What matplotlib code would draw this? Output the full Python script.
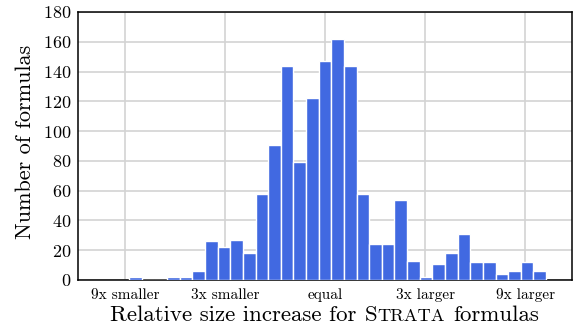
import numpy as np
import matplotlib
matplotlib.use("Agg")
import matplotlib.pyplot as plt
from matplotlib.offsetbox import TextArea, HPacker, AnchoredOffsetbox

# bin centres in log2(size ratio), bin width 0.2
bin_centers = [-3.0, -2.8, -2.6, -2.4, -2.2, -2.0, -1.8, -1.6, -1.4, -1.2, -1.0,
               -0.8, -0.6, -0.4, -0.2, 0.0, 0.2, 0.4, 0.6, 0.8, 1.0, 1.2, 1.4,
               1.6, 1.8, 2.0, 2.2, 2.4, 2.6, 2.8, 3.0, 3.2, 3.4]
counts = [2, 0, 0, 2, 2, 6, 26, 22, 27, 18, 58, 91, 144, 79, 122, 147, 162,
          144, 58, 24, 24, 54, 13, 2, 11, 18, 31, 12, 12, 4, 6, 12, 6]
tick_ratios = [1 / 9, 1 / 3, 1, 3, 9]
tick_labels = ["9x smaller", "3x smaller", "equal", "3x larger", "9x larger"]

plt.rcParams["font.family"] = "cmr10"
plt.rcParams["axes.formatter.use_mathtext"] = True

fig = plt.figure(figsize=(5.75, 3.33), dpi=100)
ax = fig.add_axes([78 / 575, 1 - 280 / 333, 494 / 575, 268 / 333])

ax.bar(bin_centers, counts, width=0.2, color="#4169e1", edgecolor="white",
       linewidth=1.0, zorder=3)

ax.set_xlim(-3.91, 3.91)
ax.set_ylim(0, 180)
ax.set_yticks(np.arange(0, 181, 20))
ax.set_xticks(np.log2(tick_ratios))
ax.set_xticklabels(tick_labels, fontsize=11)
ax.tick_params(axis="y", labelsize=13, length=0, pad=5)
ax.tick_params(axis="x", length=0, pad=6)
ax.grid(True, color="#d3d3d3", linewidth=1.2, zorder=0)
ax.set_axisbelow(True)
for sp in ax.spines.values():
    sp.set_color("black")
    sp.set_linewidth(1.1)

# y label
fig.text(25 / 575, 1 - 142 / 333, "Number of formulas", rotation=90,
         ha="center", va="center", fontsize=16)

# x label with small caps STRATA
big = dict(fontsize=16.5, family="cmr10")
small = dict(fontsize=13.2, family="cmr10")
strata = HPacker(children=[TextArea("S", textprops=big),
                           TextArea("TRATA", textprops=small)],
                 align="baseline", pad=0, sep=0)
label = HPacker(children=[TextArea("Relative size increase for", textprops=big),
                          strata,
                          TextArea("formulas", textprops=big)],
                align="baseline", pad=0, sep=6)
box = AnchoredOffsetbox(loc="upper center", child=label, pad=0, borderpad=0,
                        frameon=False, bbox_to_anchor=(325 / 575, 1 - 305 / 333),
                        bbox_transform=fig.transFigure)
fig.add_artist(box)

fig.savefig("out.png", dpi=100)
